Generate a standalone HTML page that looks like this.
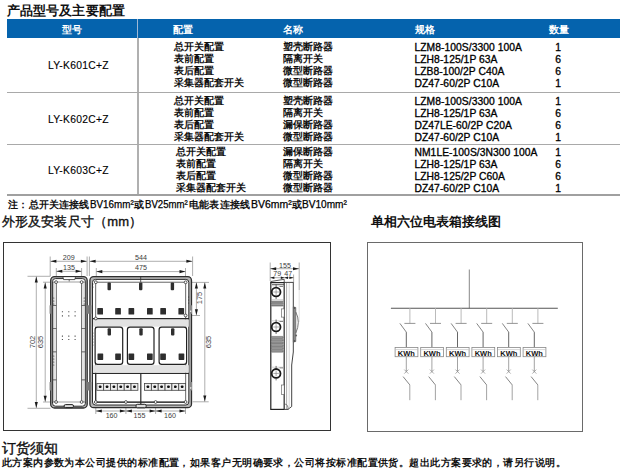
<!DOCTYPE html>
<html><head><meta charset="utf-8"><style>
*{margin:0;padding:0;box-sizing:border-box}
html,body{width:623px;height:475px;background:#fff;overflow:hidden}
body{position:relative;font-family:"Liberation Sans",sans-serif;color:#111}
.a{position:absolute;white-space:nowrap;line-height:1}
.h1{font-size:13px;font-weight:bold;color:#111;letter-spacing:0.1px}
.hd{position:absolute;left:7px;top:19px;width:613px;height:19px;background:#0563ad}
.hdt{position:absolute;top:24.5px;color:#fff;font-size:10px;font-weight:bold;line-height:10px}
.cj{font-size:10px;font-weight:bold;line-height:10px;color:#111}
.la{font-size:10.3px;line-height:10px;letter-spacing:0.05px;color:#000;-webkit-text-stroke:0.32px #000}
.q{font-size:10.3px;line-height:10px;width:20px;text-align:center;color:#000;-webkit-text-stroke:0.32px #000}
.hl{position:absolute;left:7px;width:613px;height:1px;background:#a9a9a9}
.vl{position:absolute;left:137px;width:2px;background:#b0b0b0}
.dt{font-size:7px;color:#555;line-height:1}
</style></head><body>
<div class="a h1" style="left:7px;top:4px">产品型号及主要配置</div>
<div class="hd"></div>
<div style="position:absolute;left:137px;top:19px;width:1px;height:19px;background:#9fb8d6"></div>
<div class="hdt" style="left:61.5px">型号</div>
<div class="hdt" style="left:173px">配置</div>
<div class="hdt" style="left:283px">名称</div>
<div class="hdt" style="left:414.5px">规格</div>
<div class="hdt" style="left:548.5px">数量</div>
<div class="vl" style="top:38px;height:157px"></div>
<div class="hl" style="top:92px"></div>
<div class="hl" style="top:144px"></div>
<div class="hl" style="top:194px;height:1.5px;background:#a0a0a0"></div>
<div class="a la" style="left:47.9px;top:61px;letter-spacing:0.28px;-webkit-text-stroke:0.12px #000">LY-K601C+Z</div>
<div class="a cj" style="left:173.5px;top:42.0px">总开关配置</div>
<div class="a cj" style="left:283px;top:42.0px">塑壳断路器</div>
<div class="a la" style="left:414.5px;top:43.3px">LZM8-100S/3300 100A</div>
<div class="a q" style="left:548px;top:43.3px">1</div>
<div class="a cj" style="left:173.5px;top:54.0px">表前配置</div>
<div class="a cj" style="left:283px;top:54.0px">隔离开关</div>
<div class="a la" style="left:414.5px;top:55.3px">LZH8-125/1P 63A</div>
<div class="a q" style="left:548px;top:55.3px">6</div>
<div class="a cj" style="left:173.5px;top:66.0px">表后配置</div>
<div class="a cj" style="left:283px;top:66.0px">微型断路器</div>
<div class="a la" style="left:414.5px;top:67.3px">LZB8-100/2P C40A</div>
<div class="a q" style="left:548px;top:67.3px">6</div>
<div class="a cj" style="left:173.5px;top:78.0px">采集器配套开关</div>
<div class="a cj" style="left:283px;top:78.0px">微型断路器</div>
<div class="a la" style="left:414.5px;top:79.3px">DZ47-60/2P C10A</div>
<div class="a q" style="left:548px;top:79.3px">1</div>
<div class="a la" style="left:47.9px;top:114.5px;letter-spacing:0.28px;-webkit-text-stroke:0.12px #000">LY-K602C+Z</div>
<div class="a cj" style="left:174.3px;top:95.6px">总开关配置</div>
<div class="a cj" style="left:283px;top:95.6px">塑壳断路器</div>
<div class="a la" style="left:414.5px;top:96.9px">LZM8-100S/3300 100A</div>
<div class="a q" style="left:548px;top:96.9px">1</div>
<div class="a cj" style="left:174.3px;top:107.6px">表前配置</div>
<div class="a cj" style="left:283px;top:107.6px">隔离开关</div>
<div class="a la" style="left:414.5px;top:108.9px">LZH8-125/1P 63A</div>
<div class="a q" style="left:548px;top:108.9px">6</div>
<div class="a cj" style="left:174.3px;top:119.6px">表后配置</div>
<div class="a cj" style="left:283px;top:119.6px">漏保断路器</div>
<div class="a la" style="left:414.5px;top:120.9px">DZ47LE-60/2P C20A</div>
<div class="a q" style="left:548px;top:120.9px">6</div>
<div class="a cj" style="left:174.3px;top:131.6px">采集器配套开关</div>
<div class="a cj" style="left:283px;top:131.6px">微型断路器</div>
<div class="a la" style="left:414.5px;top:132.9px">DZ47-60/2P C10A</div>
<div class="a q" style="left:548px;top:132.9px">1</div>
<div class="a la" style="left:47.9px;top:166px;letter-spacing:0.28px;-webkit-text-stroke:0.12px #000">LY-K603C+Z</div>
<div class="a cj" style="left:175.5px;top:147.0px">总开关配置</div>
<div class="a cj" style="left:283px;top:147.0px">漏保断路器</div>
<div class="a la" style="left:414.5px;top:148.3px">NM1LE-100S/3N300 100A</div>
<div class="a q" style="left:548px;top:148.3px">1</div>
<div class="a cj" style="left:175.5px;top:159.0px">表前配置</div>
<div class="a cj" style="left:283px;top:159.0px">隔离开关</div>
<div class="a la" style="left:414.5px;top:160.3px">LZH8-125/1P 63A</div>
<div class="a q" style="left:548px;top:160.3px">6</div>
<div class="a cj" style="left:175.5px;top:171.0px">表后配置</div>
<div class="a cj" style="left:283px;top:171.0px">微型断路器</div>
<div class="a la" style="left:414.5px;top:172.3px">LZH8-125/2P C60A</div>
<div class="a q" style="left:548px;top:172.3px">6</div>
<div class="a cj" style="left:175.5px;top:183.0px">采集器配套开关</div>
<div class="a cj" style="left:283px;top:183.0px">微型断路器</div>
<div class="a la" style="left:414.5px;top:184.3px">DZ47-60/2P C10A</div>
<div class="a q" style="left:548px;top:184.3px">1</div>
<div class="a cj" style="left:8.1px;top:199.5px;letter-spacing:0">注：</div>
<div class="a cj" style="left:28.9px;top:199.5px;letter-spacing:0">总开关连接线</div>
<div class="a la" style="left:90px;top:199.2px;letter-spacing:0;font-size:10.5px;transform:scaleX(0.936);transform-origin:0 0;-webkit-text-stroke:0.25px #000">BV16mm²</div>
<div class="a cj" style="left:134.2px;top:199.5px;letter-spacing:0">或</div>
<div class="a la" style="left:145px;top:199.2px;letter-spacing:0;font-size:10.5px;transform:scaleX(0.917);transform-origin:0 0;-webkit-text-stroke:0.25px #000">BV25mm²</div>
<div class="a cj" style="left:188.8px;top:199.5px;letter-spacing:0.3px">电能表连接线</div>
<div class="a la" style="left:251.2px;top:199.2px;letter-spacing:0;font-size:10.5px;transform:scaleX(0.995);transform-origin:0 0;-webkit-text-stroke:0.25px #000">BV6mm²</div>
<div class="a cj" style="left:292px;top:199.5px;letter-spacing:0">或</div>
<div class="a la" style="left:302px;top:199.2px;letter-spacing:0;font-size:10.5px;transform:scaleX(0.962);transform-origin:0 0;-webkit-text-stroke:0.25px #000">BV10mm²</div>
<div class="a" style="left:1.6px;top:215.3px;font-size:13px;letter-spacing:0.2px;-webkit-text-stroke:0.35px #111">外形及安装尺寸（mm）</div>
<div class="a" style="left:370.5px;top:215px;font-size:13px;font-weight:bold;letter-spacing:0px">单相六位电表箱接线图</div>
<div style="position:absolute;left:3px;top:242px;width:328px;height:189px;border:1.3px solid #333"></div>
<div style="position:absolute;left:367px;top:242px;width:216px;height:190px;border:1.5px solid #6a6a6a"></div>
<div class="a" style="left:1.5px;top:441px;font-size:14px;-webkit-text-stroke:0.4px #111">订货须知</div>
<div class="a" style="left:1.8px;top:457.5px;font-size:10px;letter-spacing:0.45px;font-weight:bold">此方案内参数为本公司提供的标准配置，如果客户无明确要求，公司将按标准配置供货。超出此方案要求的，请另行说明。</div>
<svg style="position:absolute;left:0;top:0" width="623" height="475" viewBox="0 0 623 475">
<line x1="50.2" y1="256.5" x2="50.2" y2="276" stroke="#8c8c8c" stroke-width="0.7"/>
<line x1="87.1" y1="256.5" x2="87.1" y2="276" stroke="#8c8c8c" stroke-width="0.7"/>
<line x1="89.4" y1="256.5" x2="89.4" y2="276" stroke="#8c8c8c" stroke-width="0.7"/>
<line x1="192.6" y1="256.5" x2="192.6" y2="276" stroke="#8c8c8c" stroke-width="0.7"/>
<line x1="50.4" y1="261.3" x2="86.9" y2="261.3" stroke="#8c8c8c" stroke-width="0.7"/>
<polygon points="50.4,261.3 56.4,259.75 56.4,262.85" fill="#1a1a1a"/>
<polygon points="86.9,261.3 80.9,259.75 80.9,262.85" fill="#1a1a1a"/>
<text x="0" y="0" transform="translate(68.65,260)" font-size="7.15" fill="#3c3c3c" text-anchor="middle" font-family="Liberation Sans, sans-serif">209</text>
<line x1="89.6" y1="261.3" x2="192.4" y2="261.3" stroke="#8c8c8c" stroke-width="0.7"/>
<polygon points="89.6,261.3 95.6,259.75 95.6,262.85" fill="#1a1a1a"/>
<polygon points="192.4,261.3 186.4,259.75 186.4,262.85" fill="#1a1a1a"/>
<text x="0" y="0" transform="translate(141,260)" font-size="7.15" fill="#3c3c3c" text-anchor="middle" font-family="Liberation Sans, sans-serif">544</text>
<line x1="56.3" y1="268" x2="56.3" y2="282" stroke="#8c8c8c" stroke-width="0.7"/>
<line x1="81.6" y1="268" x2="81.6" y2="282" stroke="#8c8c8c" stroke-width="0.7"/>
<line x1="56.3" y1="271.3" x2="81.6" y2="271.3" stroke="#8c8c8c" stroke-width="0.7"/>
<polygon points="56.3,271.3 62.3,269.75 62.3,272.85" fill="#1a1a1a"/>
<polygon points="81.6,271.3 75.6,269.75 75.6,272.85" fill="#1a1a1a"/>
<text x="0" y="0" transform="translate(68.94999999999999,269.6)" font-size="7.15" fill="#3c3c3c" text-anchor="middle" font-family="Liberation Sans, sans-serif">135</text>
<line x1="96.3" y1="268" x2="96.3" y2="282" stroke="#8c8c8c" stroke-width="0.7"/>
<line x1="185.5" y1="268" x2="185.5" y2="282" stroke="#8c8c8c" stroke-width="0.7"/>
<line x1="96.3" y1="271.6" x2="185.5" y2="271.6" stroke="#8c8c8c" stroke-width="0.7"/>
<polygon points="96.3,271.6 102.3,270.05 102.3,273.15000000000003" fill="#1a1a1a"/>
<polygon points="185.5,271.6 179.5,270.05 179.5,273.15000000000003" fill="#1a1a1a"/>
<text x="0" y="0" transform="translate(141,269.8)" font-size="7.15" fill="#3c3c3c" text-anchor="middle" font-family="Liberation Sans, sans-serif">475</text>
<line x1="27.5" y1="276.3" x2="50.5" y2="276.3" stroke="#8c8c8c" stroke-width="0.7"/>
<line x1="27.5" y1="408.3" x2="50.5" y2="408.3" stroke="#8c8c8c" stroke-width="0.7"/>
<line x1="36.3" y1="276.5" x2="36.3" y2="408" stroke="#8c8c8c" stroke-width="0.7"/>
<polygon points="36.3,276.5 34.75,282.5 37.849999999999994,282.5" fill="#1a1a1a"/>
<polygon points="36.3,408 34.75,402.0 37.849999999999994,402.0" fill="#1a1a1a"/>
<text x="0" y="0" transform="translate(35.0,342) rotate(-90)" font-size="7.5" fill="#3c3c3c" text-anchor="middle" font-family="Liberation Sans, sans-serif">702</text>
<line x1="43" y1="282.2" x2="56" y2="282.2" stroke="#8c8c8c" stroke-width="0.7"/>
<line x1="43" y1="402" x2="56" y2="402" stroke="#8c8c8c" stroke-width="0.7"/>
<line x1="45.2" y1="282.4" x2="45.2" y2="401.8" stroke="#8c8c8c" stroke-width="0.7"/>
<polygon points="45.2,282.4 43.650000000000006,288.4 46.75,288.4" fill="#1a1a1a"/>
<polygon points="45.2,401.8 43.650000000000006,395.8 46.75,395.8" fill="#1a1a1a"/>
<text x="0" y="0" transform="translate(43.2,342) rotate(-90)" font-size="7.5" fill="#3c3c3c" text-anchor="middle" font-family="Liberation Sans, sans-serif">635</text>
<line x1="185.5" y1="282.4" x2="209" y2="282.4" stroke="#8c8c8c" stroke-width="0.7"/>
<line x1="185.5" y1="315.5" x2="200" y2="315.5" stroke="#8c8c8c" stroke-width="0.7"/>
<line x1="192.6" y1="401.8" x2="208.7" y2="401.8" stroke="#8c8c8c" stroke-width="0.7"/>
<line x1="196.4" y1="282.6" x2="196.4" y2="315.3" stroke="#8c8c8c" stroke-width="0.7"/>
<polygon points="196.4,282.6 194.85,288.6 197.95000000000002,288.6" fill="#1a1a1a"/>
<polygon points="196.4,315.3 194.85,309.3 197.95000000000002,309.3" fill="#1a1a1a"/>
<text x="0" y="0" transform="translate(201.9,298) rotate(-90)" font-size="7.5" fill="#3c3c3c" text-anchor="middle" font-family="Liberation Sans, sans-serif">175</text>
<line x1="204.8" y1="282.6" x2="204.8" y2="401.6" stroke="#8c8c8c" stroke-width="0.7"/>
<polygon points="204.8,282.6 203.25,288.6 206.35000000000002,288.6" fill="#1a1a1a"/>
<polygon points="204.8,401.6 203.25,395.6 206.35000000000002,395.6" fill="#1a1a1a"/>
<text x="0" y="0" transform="translate(210.9,342) rotate(-90)" font-size="7.5" fill="#3c3c3c" text-anchor="middle" font-family="Liberation Sans, sans-serif">635</text>
<line x1="95.8" y1="402" x2="95.8" y2="414" stroke="#8c8c8c" stroke-width="0.7"/>
<line x1="125.9" y1="402" x2="125.9" y2="414" stroke="#8c8c8c" stroke-width="0.7"/>
<line x1="155.6" y1="402" x2="155.6" y2="414" stroke="#8c8c8c" stroke-width="0.7"/>
<line x1="185.5" y1="402" x2="185.5" y2="414" stroke="#8c8c8c" stroke-width="0.7"/>
<line x1="95.8" y1="411" x2="185.5" y2="411" stroke="#8c8c8c" stroke-width="0.7"/>
<polygon points="95.8,411 101.8,409.45 101.8,412.55" fill="#1a1a1a"/>
<polygon points="125.9,411 119.9,409.45 119.9,412.55" fill="#1a1a1a"/>
<polygon points="125.9,411 131.9,409.45 131.9,412.55" fill="#1a1a1a"/>
<polygon points="155.6,411 149.6,409.45 149.6,412.55" fill="#1a1a1a"/>
<polygon points="155.6,411 161.6,409.45 161.6,412.55" fill="#1a1a1a"/>
<polygon points="185.5,411 179.5,409.45 179.5,412.55" fill="#1a1a1a"/>
<text x="0" y="0" transform="translate(111.6,417.5)" font-size="7.15" fill="#3c3c3c" text-anchor="middle" font-family="Liberation Sans, sans-serif">160</text>
<text x="0" y="0" transform="translate(139.5,417.5)" font-size="7.15" fill="#3c3c3c" text-anchor="middle" font-family="Liberation Sans, sans-serif">155</text>
<text x="0" y="0" transform="translate(170,417.5)" font-size="7.15" fill="#3c3c3c" text-anchor="middle" font-family="Liberation Sans, sans-serif">160</text>
<rect x="50.7" y="276.6" width="36.5" height="131.4" rx="3.8" fill="#b5b5b5" stroke="#2e2e2e" stroke-width="1.3"/>
<rect x="52.5" y="278.6" width="32.9" height="127.6" rx="3.0" fill="#fff" stroke="#2e2e2e" stroke-width="1.0"/>
<path d="M63,277.2 L63.6,279.6 L74.8,279.6 L75.4,277.2" fill="#fff" stroke="#2e2e2e" stroke-width="0.8"/>
<line x1="69.2" y1="279.6" x2="69.2" y2="281.5" stroke="#2e2e2e" stroke-width="0.7"/>
<rect x="55.9" y="282" width="25.8" height="120" rx="0" fill="none" stroke="#777" stroke-width="0.7"/>
<rect x="52.9" y="282" width="3.5" height="23.69999999999999" rx="0" fill="#e4e4e4" stroke="#444" stroke-width="0.6"/>
<rect x="52.9" y="305.7" width="3.5" height="22.80000000000001" rx="0" fill="#e4e4e4" stroke="#444" stroke-width="0.6"/>
<rect x="52.9" y="328.5" width="3.5" height="23.5" rx="0" fill="#e4e4e4" stroke="#444" stroke-width="0.6"/>
<rect x="52.9" y="352" width="3.5" height="28" rx="0" fill="#e4e4e4" stroke="#444" stroke-width="0.6"/>
<rect x="52.9" y="380" width="3.5" height="22" rx="0" fill="#e4e4e4" stroke="#444" stroke-width="0.6"/>
<rect x="81.7" y="282" width="3.5" height="23.69999999999999" rx="0" fill="#e4e4e4" stroke="#444" stroke-width="0.6"/>
<rect x="81.7" y="305.7" width="3.5" height="22.80000000000001" rx="0" fill="#e4e4e4" stroke="#444" stroke-width="0.6"/>
<rect x="81.7" y="328.5" width="3.5" height="23.5" rx="0" fill="#e4e4e4" stroke="#444" stroke-width="0.6"/>
<rect x="81.7" y="352" width="3.5" height="28" rx="0" fill="#e4e4e4" stroke="#444" stroke-width="0.6"/>
<rect x="81.7" y="380" width="3.5" height="22" rx="0" fill="#e4e4e4" stroke="#444" stroke-width="0.6"/>
<rect x="49.6" y="305.3" width="2" height="8.4" rx="0.3" fill="#7a7a7a"/>
<rect x="86.6" y="305.3" width="2.6" height="8.4" rx="0.3" fill="#7a7a7a"/>
<rect x="49.6" y="382" width="2" height="8.4" rx="0.3" fill="#7a7a7a"/>
<rect x="86.6" y="382" width="2.6" height="8.4" rx="0.3" fill="#7a7a7a"/>
<circle cx="56.1" cy="282.1" r="1.4" fill="#fff" stroke="#333" stroke-width="0.8"/>
<circle cx="81.6" cy="282.1" r="1.4" fill="#fff" stroke="#333" stroke-width="0.8"/>
<circle cx="56.1" cy="402" r="1.4" fill="#fff" stroke="#333" stroke-width="0.8"/>
<circle cx="81.6" cy="402" r="1.4" fill="#fff" stroke="#333" stroke-width="0.8"/>
<rect x="61.85" y="311.25" width="1.1" height="1.1" rx="0.2" fill="#444"/>
<rect x="68.25" y="311.25" width="1.1" height="1.1" rx="0.2" fill="#444"/>
<rect x="74.55" y="311.25" width="1.1" height="1.1" rx="0.2" fill="#444"/>
<rect x="61.85" y="315.34999999999997" width="1.1" height="1.1" rx="0.2" fill="#444"/>
<rect x="68.25" y="315.34999999999997" width="1.1" height="1.1" rx="0.2" fill="#444"/>
<rect x="74.55" y="315.34999999999997" width="1.1" height="1.1" rx="0.2" fill="#444"/>
<rect x="61.85" y="335.55" width="1.1" height="1.1" rx="0.2" fill="#444"/>
<rect x="68.25" y="335.55" width="1.1" height="1.1" rx="0.2" fill="#444"/>
<rect x="74.55" y="335.55" width="1.1" height="1.1" rx="0.2" fill="#444"/>
<rect x="61.85" y="338.95" width="1.1" height="1.1" rx="0.2" fill="#444"/>
<rect x="68.25" y="338.95" width="1.1" height="1.1" rx="0.2" fill="#444"/>
<rect x="74.55" y="338.95" width="1.1" height="1.1" rx="0.2" fill="#444"/>
<rect x="64.1" y="404.6" width="9.4" height="3.0" rx="1.4" fill="#ddd" stroke="#222" stroke-width="1.0"/>
<rect x="89.9" y="276.6" width="101.6" height="131.1" rx="3.8" fill="#b5b5b5" stroke="#2e2e2e" stroke-width="1.3"/>
<rect x="92.5" y="279.4" width="96.3" height="125.6" rx="3.0" fill="#fff" stroke="#2e2e2e" stroke-width="1.0"/>
<line x1="140.7" y1="276.5" x2="140.7" y2="282" stroke="#2e2e2e" stroke-width="0.8"/>
<rect x="95.7" y="282.2" width="90" height="120" rx="0" fill="none" stroke="#555" stroke-width="0.9"/>
<line x1="95.7" y1="373.4" x2="95.7" y2="402.2" stroke="#2a2a2a" stroke-width="1.2"/>
<line x1="95.2" y1="402.2" x2="186.2" y2="402.2" stroke="#2a2a2a" stroke-width="1.3"/>
<line x1="93" y1="318.7" x2="189" y2="318.7" stroke="#2a2a2a" stroke-width="1.4"/>
<line x1="93" y1="373.4" x2="189" y2="373.4" stroke="#2a2a2a" stroke-width="1.4"/>
<line x1="140.8" y1="373.4" x2="140.8" y2="404.5" stroke="#2a2a2a" stroke-width="1.2"/>
<rect x="93.2" y="319.5" width="95.6" height="7.2" rx="0" fill="#e2e2e2"/>
<rect x="93.2" y="365.2" width="95.6" height="7.5" rx="0" fill="#e2e2e2"/>
<rect x="107.5" y="282.4" width="3.4" height="7.8" rx="1.0" fill="#2e2e2e"/>
<rect x="139.0" y="282.4" width="3.4" height="7.8" rx="1.0" fill="#2e2e2e"/>
<rect x="170.7" y="282.4" width="3.4" height="7.8" rx="1.0" fill="#2e2e2e"/>
<rect x="97.3" y="308.1" width="5.7" height="6.5" rx="0.6" fill="#2e2e2e"/>
<rect x="115.2" y="308.1" width="5.7" height="6.5" rx="0.6" fill="#2e2e2e"/>
<rect x="128.5" y="308.1" width="5.7" height="6.5" rx="0.6" fill="#2e2e2e"/>
<rect x="147.0" y="308.1" width="5.7" height="6.5" rx="0.6" fill="#2e2e2e"/>
<rect x="160.3" y="308.1" width="5.7" height="6.5" rx="0.6" fill="#2e2e2e"/>
<rect x="178.4" y="308.1" width="5.7" height="6.5" rx="0.6" fill="#2e2e2e"/>
<rect x="95.1" y="327.2" width="27.60000000000001" height="37.1" rx="2.6" fill="#fff" stroke="#222" stroke-width="1.2"/>
<rect x="127.4" y="327.2" width="26.599999999999994" height="37.1" rx="2.6" fill="#fff" stroke="#222" stroke-width="1.2"/>
<rect x="159.1" y="327.2" width="27.5" height="37.1" rx="2.6" fill="#fff" stroke="#222" stroke-width="1.2"/>
<rect x="107.6" y="328.2" width="3.4" height="7.2" rx="1.0" fill="#2e2e2e"/>
<rect x="139.3" y="328.2" width="3.4" height="7.2" rx="1.0" fill="#2e2e2e"/>
<rect x="171.0" y="328.2" width="3.4" height="7.2" rx="1.0" fill="#2e2e2e"/>
<rect x="97.5" y="353.5" width="5.7" height="6.4" rx="0.6" fill="#2e2e2e"/>
<rect x="115.2" y="353.5" width="5.7" height="6.4" rx="0.6" fill="#2e2e2e"/>
<rect x="128.5" y="353.5" width="5.7" height="6.4" rx="0.6" fill="#2e2e2e"/>
<rect x="147.0" y="353.5" width="5.7" height="6.4" rx="0.6" fill="#2e2e2e"/>
<rect x="160.2" y="353.5" width="5.7" height="6.4" rx="0.6" fill="#2e2e2e"/>
<rect x="178.6" y="353.5" width="5.7" height="6.4" rx="0.6" fill="#2e2e2e"/>
<rect x="96.8" y="383.4" width="6.85" height="6.9" rx="0" fill="#efefef" stroke="#444" stroke-width="0.8"/>
<rect x="98.89999999999999" y="385.5" width="2.6" height="2.6" rx="0.8" fill="#111"/>
<rect x="103.64999999999999" y="383.4" width="6.85" height="6.9" rx="0" fill="#efefef" stroke="#444" stroke-width="0.8"/>
<rect x="105.74999999999999" y="385.5" width="2.6" height="2.6" rx="0.8" fill="#111"/>
<rect x="110.5" y="383.4" width="6.85" height="6.9" rx="0" fill="#efefef" stroke="#444" stroke-width="0.8"/>
<rect x="112.6" y="385.5" width="2.6" height="2.6" rx="0.8" fill="#111"/>
<rect x="117.35" y="383.4" width="6.85" height="6.9" rx="0" fill="#efefef" stroke="#444" stroke-width="0.8"/>
<rect x="119.44999999999999" y="385.5" width="2.6" height="2.6" rx="0.8" fill="#111"/>
<rect x="124.19999999999999" y="383.4" width="6.85" height="6.9" rx="0" fill="#efefef" stroke="#444" stroke-width="0.8"/>
<rect x="126.29999999999998" y="385.5" width="2.6" height="2.6" rx="0.8" fill="#111"/>
<rect x="131.05" y="383.4" width="6.85" height="6.9" rx="0" fill="#efefef" stroke="#444" stroke-width="0.8"/>
<rect x="133.15" y="385.5" width="2.6" height="2.6" rx="0.8" fill="#111"/>
<rect x="144.5" y="383.4" width="6.85" height="6.9" rx="0" fill="#efefef" stroke="#444" stroke-width="0.8"/>
<rect x="146.6" y="385.5" width="2.6" height="2.6" rx="0.8" fill="#111"/>
<rect x="151.35" y="383.4" width="6.85" height="6.9" rx="0" fill="#efefef" stroke="#444" stroke-width="0.8"/>
<rect x="153.45" y="385.5" width="2.6" height="2.6" rx="0.8" fill="#111"/>
<rect x="158.2" y="383.4" width="6.85" height="6.9" rx="0" fill="#efefef" stroke="#444" stroke-width="0.8"/>
<rect x="160.29999999999998" y="385.5" width="2.6" height="2.6" rx="0.8" fill="#111"/>
<rect x="165.05" y="383.4" width="6.85" height="6.9" rx="0" fill="#efefef" stroke="#444" stroke-width="0.8"/>
<rect x="167.15" y="385.5" width="2.6" height="2.6" rx="0.8" fill="#111"/>
<rect x="171.9" y="383.4" width="6.85" height="6.9" rx="0" fill="#efefef" stroke="#444" stroke-width="0.8"/>
<rect x="174.0" y="385.5" width="2.6" height="2.6" rx="0.8" fill="#111"/>
<rect x="178.75" y="383.4" width="6.85" height="6.9" rx="0" fill="#efefef" stroke="#444" stroke-width="0.8"/>
<rect x="180.85" y="385.5" width="2.6" height="2.6" rx="0.8" fill="#111"/>
<circle cx="95.8" cy="282.2" r="1.4" fill="#fff" stroke="#333" stroke-width="0.8"/>
<circle cx="185.6" cy="282.3" r="1.4" fill="#fff" stroke="#333" stroke-width="0.8"/>
<circle cx="95.8" cy="318.5" r="1.4" fill="#fff" stroke="#333" stroke-width="0.8"/>
<circle cx="185.6" cy="315.5" r="1.4" fill="#fff" stroke="#333" stroke-width="0.8"/>
<circle cx="95.8" cy="402" r="1.4" fill="#fff" stroke="#333" stroke-width="0.8"/>
<circle cx="125.9" cy="402" r="1.4" fill="#fff" stroke="#333" stroke-width="0.8"/>
<circle cx="155.6" cy="402" r="1.4" fill="#fff" stroke="#333" stroke-width="0.8"/>
<circle cx="185.6" cy="402" r="1.4" fill="#fff" stroke="#333" stroke-width="0.8"/>
<rect x="136" y="404.3" width="10.2" height="3.5" rx="1.5" fill="#ddd" stroke="#222" stroke-width="1.0"/>
<rect x="89.2" y="305.3" width="2.2" height="8.4" rx="0.3" fill="#7a7a7a"/>
<rect x="189.4" y="305.3" width="2.6" height="8.4" rx="0.3" fill="#8a8a8a"/>
<rect x="190.2" y="310.5" width="1.0" height="1.6" rx="0.2" fill="#fff"/>
<rect x="89.2" y="382" width="2.2" height="8.4" rx="0.3" fill="#7a7a7a"/>
<rect x="189.4" y="382" width="2.6" height="8.4" rx="0.3" fill="#8a8a8a"/>
<rect x="190.2" y="387.2" width="1.0" height="1.6" rx="0.2" fill="#fff"/>
<circle cx="92.9" cy="333" r="0.55" fill="#333" stroke="none" stroke-width="0"/>
<circle cx="92.9" cy="336" r="0.55" fill="#333" stroke="none" stroke-width="0"/>
<circle cx="92.9" cy="339" r="0.55" fill="#333" stroke="none" stroke-width="0"/>
<circle cx="92.9" cy="342" r="0.55" fill="#333" stroke="none" stroke-width="0"/>
<circle cx="92.9" cy="345" r="0.55" fill="#333" stroke="none" stroke-width="0"/>
<circle cx="188.6" cy="297" r="0.55" fill="#333" stroke="none" stroke-width="0"/>
<circle cx="188.6" cy="300" r="0.55" fill="#333" stroke="none" stroke-width="0"/>
<circle cx="188.6" cy="303" r="0.55" fill="#333" stroke="none" stroke-width="0"/>
<circle cx="53.8" cy="298" r="0.55" fill="#333" stroke="none" stroke-width="0"/>
<circle cx="53.8" cy="301" r="0.55" fill="#333" stroke="none" stroke-width="0"/>
<circle cx="53.8" cy="304" r="0.55" fill="#333" stroke="none" stroke-width="0"/>
<circle cx="84.2" cy="298" r="0.55" fill="#333" stroke="none" stroke-width="0"/>
<circle cx="84.2" cy="301" r="0.55" fill="#333" stroke="none" stroke-width="0"/>
<circle cx="84.2" cy="304" r="0.55" fill="#333" stroke="none" stroke-width="0"/>
<circle cx="53.8" cy="356" r="0.55" fill="#333" stroke="none" stroke-width="0"/>
<circle cx="53.8" cy="359" r="0.55" fill="#333" stroke="none" stroke-width="0"/>
<circle cx="53.8" cy="362" r="0.55" fill="#333" stroke="none" stroke-width="0"/>
<circle cx="53.8" cy="365" r="0.55" fill="#333" stroke="none" stroke-width="0"/>
<circle cx="92.9" cy="284" r="0.55" fill="#333" stroke="none" stroke-width="0"/>
<circle cx="92.9" cy="287" r="0.55" fill="#333" stroke="none" stroke-width="0"/>
<line x1="270.2" y1="262.5" x2="270.2" y2="281" stroke="#8c8c8c" stroke-width="0.7"/>
<line x1="299.2" y1="262.5" x2="299.2" y2="290" stroke="#8c8c8c" stroke-width="0.7"/>
<line x1="299.2" y1="290" x2="299.2" y2="322" stroke="#cfcfcf" stroke-width="0.6"/>
<line x1="293.6" y1="274.5" x2="293.6" y2="283" stroke="#8c8c8c" stroke-width="0.7"/>
<line x1="270.2" y1="268.7" x2="299.0" y2="268.7" stroke="#8c8c8c" stroke-width="0.7"/>
<polygon points="270.2,268.7 276.2,267.15 276.2,270.25" fill="#1a1a1a"/>
<polygon points="299.0,268.7 293.0,267.15 293.0,270.25" fill="#1a1a1a"/>
<text x="0" y="0" transform="translate(285,267.6)" font-size="7.15" fill="#3c3c3c" text-anchor="middle" font-family="Liberation Sans, sans-serif">155</text>
<line x1="270.2" y1="277.7" x2="293.6" y2="277.7" stroke="#8c8c8c" stroke-width="0.7"/>
<polygon points="270.2,277.7 274.4,276.4 274.4,279.0" fill="#1a1a1a"/>
<polygon points="284.4,277.7 280.79999999999995,276.4 280.79999999999995,279.0" fill="#1a1a1a"/>
<polygon points="284.4,277.7 288.0,276.4 288.0,279.0" fill="#1a1a1a"/>
<polygon points="293.6,277.7 289.40000000000003,276.4 289.40000000000003,279.0" fill="#1a1a1a"/>
<text x="0" y="0" transform="translate(277.2,276.2)" font-size="7.15" fill="#3c3c3c" text-anchor="middle" font-family="Liberation Sans, sans-serif">79</text>
<text x="0" y="0" transform="translate(288.3,276.2)" font-size="7.15" fill="#3c3c3c" text-anchor="middle" font-family="Liberation Sans, sans-serif">47</text>
<path d="M270.8,281.5 L284.2,279.3 L284.2,282.6 L270.8,282.6 Z" fill="#fff" stroke="#2e2e2e" stroke-width="0.8"/>
<rect x="270.8" y="282.6" width="13.5" height="126.8" rx="0" fill="#fff" stroke="#222" stroke-width="1.2"/>
<line x1="272.0" y1="284.6" x2="284.2" y2="284.6" stroke="#444" stroke-width="0.8"/>
<path d="M284.3,282.4 L293.3,282.4 L293.3,352 L291.7,365 L291.7,406.5 L288,409.4 L284.3,409.4 Z" fill="#fff" stroke="#2e2e2e" stroke-width="0.9"/>
<line x1="286.6" y1="283" x2="286.6" y2="409" stroke="#777" stroke-width="0.6"/>
<line x1="289.2" y1="283" x2="289.2" y2="409" stroke="#aaa" stroke-width="0.5"/>
<path d="M293.3,306.8 L295.8,307.5 L295.8,341.5 L293.3,342.2 Z" fill="#8a8a8a" stroke="#555" stroke-width="0.6"/>
<path d="M295.8,312 Q300.8,322 295.8,333" fill="none" stroke="#666" stroke-width="0.9"/>
<circle cx="294.5" cy="308" r="0.9" fill="#555"/><circle cx="294.5" cy="341" r="0.9" fill="#555"/><circle cx="296" cy="335.5" r="1.1" fill="#666"/>
<circle cx="276.1" cy="292.0" r="4.4" fill="#fff" stroke="#1a1a1a" stroke-width="1.8"/>
<line x1="276.1" y1="289.2" x2="276.1" y2="294.8" stroke="#888" stroke-width="0.7"/>
<line x1="273.3" y1="292.0" x2="278.9" y2="292.0" stroke="#888" stroke-width="0.7"/>
<line x1="271.5" y1="285.8" x2="283.5" y2="285.8" stroke="#aaa" stroke-width="0.5"/>
<line x1="276.1" y1="284.5" x2="276.1" y2="287.0" stroke="#333" stroke-width="0.7"/>
<line x1="276.1" y1="297.0" x2="276.1" y2="299.0" stroke="#333" stroke-width="0.7"/>
<line x1="279.5" y1="286.5" x2="283" y2="286.5" stroke="#666" stroke-width="0.8"/>
<circle cx="276.1" cy="327.0" r="4.4" fill="#fff" stroke="#1a1a1a" stroke-width="1.8"/>
<line x1="276.1" y1="324.2" x2="276.1" y2="329.8" stroke="#888" stroke-width="0.7"/>
<line x1="273.3" y1="327.0" x2="278.9" y2="327.0" stroke="#888" stroke-width="0.7"/>
<line x1="271.5" y1="320.8" x2="283.5" y2="320.8" stroke="#aaa" stroke-width="0.5"/>
<line x1="276.1" y1="319.5" x2="276.1" y2="322.0" stroke="#333" stroke-width="0.7"/>
<line x1="276.1" y1="332.0" x2="276.1" y2="334.0" stroke="#333" stroke-width="0.7"/>
<line x1="279.5" y1="321.5" x2="283" y2="321.5" stroke="#666" stroke-width="0.8"/>
<circle cx="276.1" cy="373.4" r="4.4" fill="#fff" stroke="#1a1a1a" stroke-width="1.8"/>
<line x1="276.1" y1="370.59999999999997" x2="276.1" y2="376.2" stroke="#888" stroke-width="0.7"/>
<line x1="273.3" y1="373.4" x2="278.9" y2="373.4" stroke="#888" stroke-width="0.7"/>
<line x1="271.5" y1="367.2" x2="283.5" y2="367.2" stroke="#aaa" stroke-width="0.5"/>
<line x1="276.1" y1="365.9" x2="276.1" y2="368.4" stroke="#333" stroke-width="0.7"/>
<line x1="276.1" y1="378.4" x2="276.1" y2="380.4" stroke="#333" stroke-width="0.7"/>
<line x1="279.5" y1="367.9" x2="283" y2="367.9" stroke="#666" stroke-width="0.8"/>
<line x1="270.8" y1="299.9" x2="284.3" y2="299.9" stroke="#999" stroke-width="0.6"/>
<rect x="271.3" y="301.30" width="11.8" height="1.10" rx="0.6" fill="#9a9a9a" stroke="#444" stroke-width="0.45"/>
<rect x="271.3" y="303.15" width="11.8" height="1.10" rx="0.6" fill="#9a9a9a" stroke="#444" stroke-width="0.45"/>
<rect x="271.3" y="305.00" width="11.8" height="1.10" rx="0.6" fill="#9a9a9a" stroke="#444" stroke-width="0.45"/>
<rect x="271.3" y="336.40" width="11.8" height="2.00" rx="0.6" fill="#9a9a9a" stroke="#444" stroke-width="0.45"/>
<rect x="271.3" y="339.15" width="11.8" height="2.00" rx="0.6" fill="#9a9a9a" stroke="#444" stroke-width="0.45"/>
<rect x="271.3" y="341.90" width="11.8" height="2.00" rx="0.6" fill="#9a9a9a" stroke="#444" stroke-width="0.45"/>
<rect x="271.3" y="344.65" width="11.8" height="2.00" rx="0.6" fill="#9a9a9a" stroke="#444" stroke-width="0.45"/>
<rect x="271.3" y="347.40" width="11.8" height="2.00" rx="0.6" fill="#9a9a9a" stroke="#444" stroke-width="0.45"/>
<rect x="271.3" y="350.15" width="11.8" height="2.00" rx="0.6" fill="#9a9a9a" stroke="#444" stroke-width="0.45"/>
<rect x="281.4" y="308.9" width="2.8" height="8.2" rx="0" fill="#fff" stroke="#555" stroke-width="0.6"/>
<rect x="281.4" y="385" width="2.8" height="9.5" rx="0" fill="#fff" stroke="#555" stroke-width="0.6"/>
<path d="M284.3,404 Q288.5,404 288,409.8" fill="none" stroke="#555" stroke-width="0.7"/>
<line x1="469.3" y1="269.5" x2="469.3" y2="308.3" stroke="#888" stroke-width="1.0"/>
<line x1="390.9" y1="308.3" x2="557.8" y2="308.3" stroke="#555" stroke-width="1.1"/>
<line x1="409.9" y1="308.3" x2="409.9" y2="323.4" stroke="#bbb" stroke-width="1.0"/>
<line x1="404.4" y1="323.4" x2="415.4" y2="323.4" stroke="#888" stroke-width="0.9"/>
<line x1="399.9" y1="323.4" x2="406.29999999999995" y2="332.1" stroke="#777" stroke-width="0.9"/>
<line x1="406.29999999999995" y1="332.1" x2="406.29999999999995" y2="347.4" stroke="#555" stroke-width="0.9"/>
<rect x="395.09999999999997" y="347.4" width="22.8" height="9.3" rx="0" fill="#fff" stroke="#888" stroke-width="0.8"/>
<line x1="395.5" y1="349.6" x2="417.5" y2="349.6" stroke="#bbb" stroke-width="0.6"/>
<text x="406.4" y="355.9" font-size="7.5" font-weight="bold" fill="#111" text-anchor="middle" font-family="Liberation Sans, sans-serif">KWh</text>
<line x1="406.29999999999995" y1="356.7" x2="406.29999999999995" y2="371.6" stroke="#999" stroke-width="0.9"/>
<line x1="404.29999999999995" y1="369.6" x2="408.29999999999995" y2="373.6" stroke="#888" stroke-width="0.7"/>
<line x1="404.29999999999995" y1="373.6" x2="408.29999999999995" y2="369.6" stroke="#888" stroke-width="0.7"/>
<line x1="403.09999999999997" y1="376.6" x2="409.79999999999995" y2="384.9" stroke="#777" stroke-width="0.9"/>
<line x1="409.79999999999995" y1="384.9" x2="409.79999999999995" y2="400.2" stroke="#999" stroke-width="0.9"/>
<line x1="435.5" y1="308.3" x2="435.5" y2="323.4" stroke="#bbb" stroke-width="1.0"/>
<line x1="430.0" y1="323.4" x2="441.0" y2="323.4" stroke="#888" stroke-width="0.9"/>
<line x1="425.5" y1="323.4" x2="431.9" y2="332.1" stroke="#777" stroke-width="0.9"/>
<line x1="431.9" y1="332.1" x2="431.9" y2="347.4" stroke="#555" stroke-width="0.9"/>
<rect x="420.7" y="347.4" width="22.8" height="9.3" rx="0" fill="#fff" stroke="#888" stroke-width="0.8"/>
<line x1="421.1" y1="349.6" x2="443.1" y2="349.6" stroke="#bbb" stroke-width="0.6"/>
<text x="432.0" y="355.9" font-size="7.5" font-weight="bold" fill="#111" text-anchor="middle" font-family="Liberation Sans, sans-serif">KWh</text>
<line x1="431.9" y1="356.7" x2="431.9" y2="371.6" stroke="#999" stroke-width="0.9"/>
<line x1="429.9" y1="369.6" x2="433.9" y2="373.6" stroke="#888" stroke-width="0.7"/>
<line x1="429.9" y1="373.6" x2="433.9" y2="369.6" stroke="#888" stroke-width="0.7"/>
<line x1="428.7" y1="376.6" x2="435.4" y2="384.9" stroke="#777" stroke-width="0.9"/>
<line x1="435.4" y1="384.9" x2="435.4" y2="400.2" stroke="#999" stroke-width="0.9"/>
<line x1="461.09999999999997" y1="308.3" x2="461.09999999999997" y2="323.4" stroke="#bbb" stroke-width="1.0"/>
<line x1="455.59999999999997" y1="323.4" x2="466.59999999999997" y2="323.4" stroke="#888" stroke-width="0.9"/>
<line x1="451.09999999999997" y1="323.4" x2="457.49999999999994" y2="332.1" stroke="#777" stroke-width="0.9"/>
<line x1="457.49999999999994" y1="332.1" x2="457.49999999999994" y2="347.4" stroke="#555" stroke-width="0.9"/>
<rect x="446.29999999999995" y="347.4" width="22.8" height="9.3" rx="0" fill="#fff" stroke="#888" stroke-width="0.8"/>
<line x1="446.7" y1="349.6" x2="468.7" y2="349.6" stroke="#bbb" stroke-width="0.6"/>
<text x="457.59999999999997" y="355.9" font-size="7.5" font-weight="bold" fill="#111" text-anchor="middle" font-family="Liberation Sans, sans-serif">KWh</text>
<line x1="457.49999999999994" y1="356.7" x2="457.49999999999994" y2="371.6" stroke="#999" stroke-width="0.9"/>
<line x1="455.49999999999994" y1="369.6" x2="459.49999999999994" y2="373.6" stroke="#888" stroke-width="0.7"/>
<line x1="455.49999999999994" y1="373.6" x2="459.49999999999994" y2="369.6" stroke="#888" stroke-width="0.7"/>
<line x1="454.29999999999995" y1="376.6" x2="460.99999999999994" y2="384.9" stroke="#777" stroke-width="0.9"/>
<line x1="460.99999999999994" y1="384.9" x2="460.99999999999994" y2="400.2" stroke="#999" stroke-width="0.9"/>
<line x1="486.7" y1="308.3" x2="486.7" y2="323.4" stroke="#bbb" stroke-width="1.0"/>
<line x1="481.2" y1="323.4" x2="492.2" y2="323.4" stroke="#888" stroke-width="0.9"/>
<line x1="476.7" y1="323.4" x2="483.09999999999997" y2="332.1" stroke="#777" stroke-width="0.9"/>
<line x1="483.09999999999997" y1="332.1" x2="483.09999999999997" y2="347.4" stroke="#555" stroke-width="0.9"/>
<rect x="471.9" y="347.4" width="22.8" height="9.3" rx="0" fill="#fff" stroke="#888" stroke-width="0.8"/>
<line x1="472.3" y1="349.6" x2="494.3" y2="349.6" stroke="#bbb" stroke-width="0.6"/>
<text x="483.2" y="355.9" font-size="7.5" font-weight="bold" fill="#111" text-anchor="middle" font-family="Liberation Sans, sans-serif">KWh</text>
<line x1="483.09999999999997" y1="356.7" x2="483.09999999999997" y2="371.6" stroke="#999" stroke-width="0.9"/>
<line x1="481.09999999999997" y1="369.6" x2="485.09999999999997" y2="373.6" stroke="#888" stroke-width="0.7"/>
<line x1="481.09999999999997" y1="373.6" x2="485.09999999999997" y2="369.6" stroke="#888" stroke-width="0.7"/>
<line x1="479.9" y1="376.6" x2="486.59999999999997" y2="384.9" stroke="#777" stroke-width="0.9"/>
<line x1="486.59999999999997" y1="384.9" x2="486.59999999999997" y2="400.2" stroke="#999" stroke-width="0.9"/>
<line x1="512.3" y1="308.3" x2="512.3" y2="323.4" stroke="#bbb" stroke-width="1.0"/>
<line x1="506.79999999999995" y1="323.4" x2="517.8" y2="323.4" stroke="#888" stroke-width="0.9"/>
<line x1="502.29999999999995" y1="323.4" x2="508.69999999999993" y2="332.1" stroke="#777" stroke-width="0.9"/>
<line x1="508.69999999999993" y1="332.1" x2="508.69999999999993" y2="347.4" stroke="#555" stroke-width="0.9"/>
<rect x="497.49999999999994" y="347.4" width="22.8" height="9.3" rx="0" fill="#fff" stroke="#888" stroke-width="0.8"/>
<line x1="497.9" y1="349.6" x2="519.9" y2="349.6" stroke="#bbb" stroke-width="0.6"/>
<text x="508.79999999999995" y="355.9" font-size="7.5" font-weight="bold" fill="#111" text-anchor="middle" font-family="Liberation Sans, sans-serif">KWh</text>
<line x1="508.69999999999993" y1="356.7" x2="508.69999999999993" y2="371.6" stroke="#999" stroke-width="0.9"/>
<line x1="506.69999999999993" y1="369.6" x2="510.69999999999993" y2="373.6" stroke="#888" stroke-width="0.7"/>
<line x1="506.69999999999993" y1="373.6" x2="510.69999999999993" y2="369.6" stroke="#888" stroke-width="0.7"/>
<line x1="505.49999999999994" y1="376.6" x2="512.1999999999999" y2="384.9" stroke="#777" stroke-width="0.9"/>
<line x1="512.1999999999999" y1="384.9" x2="512.1999999999999" y2="400.2" stroke="#999" stroke-width="0.9"/>
<line x1="537.9" y1="308.3" x2="537.9" y2="323.4" stroke="#bbb" stroke-width="1.0"/>
<line x1="532.4" y1="323.4" x2="543.4" y2="323.4" stroke="#888" stroke-width="0.9"/>
<line x1="527.9" y1="323.4" x2="534.3" y2="332.1" stroke="#777" stroke-width="0.9"/>
<line x1="534.3" y1="332.1" x2="534.3" y2="347.4" stroke="#555" stroke-width="0.9"/>
<rect x="523.1" y="347.4" width="22.8" height="9.3" rx="0" fill="#fff" stroke="#888" stroke-width="0.8"/>
<line x1="523.5" y1="349.6" x2="545.5" y2="349.6" stroke="#bbb" stroke-width="0.6"/>
<text x="534.4" y="355.9" font-size="7.5" font-weight="bold" fill="#111" text-anchor="middle" font-family="Liberation Sans, sans-serif">KWh</text>
<line x1="534.3" y1="356.7" x2="534.3" y2="371.6" stroke="#999" stroke-width="0.9"/>
<line x1="532.3" y1="369.6" x2="536.3" y2="373.6" stroke="#888" stroke-width="0.7"/>
<line x1="532.3" y1="373.6" x2="536.3" y2="369.6" stroke="#888" stroke-width="0.7"/>
<line x1="531.1" y1="376.6" x2="537.8" y2="384.9" stroke="#777" stroke-width="0.9"/>
<line x1="537.8" y1="384.9" x2="537.8" y2="400.2" stroke="#999" stroke-width="0.9"/>
</svg>
</body></html>
